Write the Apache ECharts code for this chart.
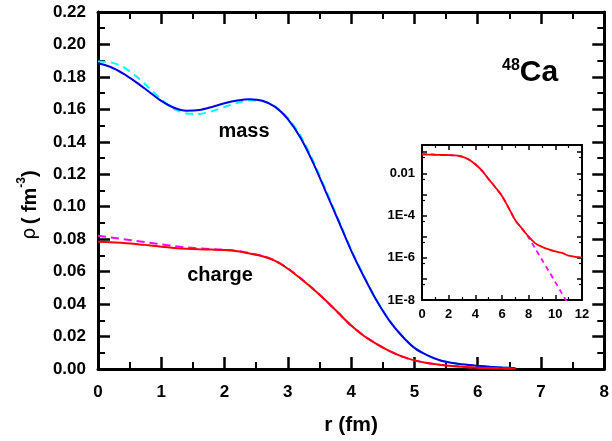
<!DOCTYPE html>
<html>
<head>
<meta charset="utf-8">
<script src="https://cdn.jsdelivr.net/npm/echarts@6/dist/echarts.min.js"></script>
<style>
html,body{margin:0;padding:0;background:#fff;}
#chart{width:612px;height:441px;}
</style>
</head>
<body>
<div id="chart"></div>
<script>
// ---- data ----
const rMain = [0,0.2,0.4,0.6,0.8,1,1.2,1.4,1.6,1.8,2,2.2,2.4,2.6,2.8,3,3.2,3.4,3.6,3.8,4,4.2,4.4,4.6,4.8,5,5.2,5.4,5.6,5.8,6,6.2,6.4,6.6];
const massSolid = [0.1884,0.1861,0.1820,0.1768,0.1710,0.1652,0.1610,0.1592,0.1596,0.1615,0.1638,0.1655,0.1663,0.1653,0.1615,0.1540,0.1425,0.1270,0.1092,0.0912,0.0730,0.0570,0.0423,0.0300,0.0205,0.0130,0.0085,0.0054,0.0037,0.0027,0.0020,0.0014,0.0009,0.0005];
const massDashed = [0.1895,0.1890,0.1860,0.1805,0.1735,0.1662,0.1603,0.1575,0.1572,0.1588,0.1615,0.1640,0.1655,0.1650,0.1617,0.1548,0.1437,0.1282,0.1103,0.0920,0.0737,0.0575,0.0427,0.0303,0.0207,0.0131,0.0085,0.0054,0.0037,0.0027,0.0020,0.0014,0.0009,0.0005];
const chargeSolid = [0.0784,0.0781,0.0777,0.0771,0.0762,0.0753,0.0746,0.0741,0.0738,0.0736,0.0733,0.0726,0.0712,0.0695,0.0666,0.0618,0.0558,0.0493,0.0422,0.0345,0.0268,0.0205,0.0155,0.0112,0.0078,0.0053,0.0037,0.0026,0.0018,0.0012,0.0008,0.0005,0.0003,0.0002];
const chargeDashed = [0.0821,0.0811,0.0800,0.0790,0.0779,0.0768,0.0758,0.0749,0.0743,0.0739,0.0735,0.0728,0.0714,0.0697,0.0668,0.0620,0.0560,0.0494,0.0422,0.0345,0.0268,0.0205,0.0155,0.0112,0.0078,0.0053,0.0037,0.0026,0.0018,0.0012,0.0008,0.0005,0.0003,0.0002];

const rInset = [0,0.5,1,1.5,2,2.5,3,3.5,4,4.5,5,5.5,6,6.5,7,7.5,8,8.5,9,9.5,10,10.5,11,11.5,12];
const chargeLog = [0.078,0.0775,0.0753,0.074,0.0734,0.0705,0.0618,0.0455,0.0268,0.0133,0.0053,0.0022,0.00085,0.00023,0.00006,0.000024,0.00001,0.0000048,0.0000033,0.0000025,0.000002,0.0000017,0.00000125,0.0000011,0.00000105];
const chargeLogDashed = [0.082,0.0795,0.0768,0.0746,0.0735,0.0707,0.0620,0.0457,0.0268,0.0134,0.0053,0.0022,0.00085,0.00023,0.00006,0.000024,0.000009,0.0000027,0.0000008,0.00000024,0.00000007,0.00000002,0.000000006];

const insetYLabels = {'-2':'0.01','-4':'1E-4','-6':'1E-6','-8':'1E-8'};

function pairs(xs, ys){ return ys.map((v,i)=>[xs[i], v]); }

const FONT = 'Liberation Sans, Arial, sans-serif';
const black = '#000';

function mainAxisCommon(extra){
  return Object.assign({
    gridIndex: 0,
    axisLine: {show:true, onZero:false, lineStyle:{color:black, width:3, type:'solid'}},
    axisTick: {show:true, inside:true, length:12, lineStyle:{color:black, width:2.5, type:'solid'}},
    minorTick: {show:true, splitNumber:2, length:7, lineStyle:{color:black, width:2, type:'solid'}},
    splitLine: {show:false},
    minorSplitLine: {show:false}
  }, extra);
}
function insetAxisCommon(extra){
  return Object.assign({
    gridIndex: 1,
    axisLine: {show:true, onZero:false, lineStyle:{color:black, width:2, type:'solid'}},
    axisTick: {show:true, inside:true, length:5, lineStyle:{color:black, width:1.5, type:'solid'}},
    minorTick: {show:true, splitNumber:2, length:3, lineStyle:{color:black, width:1.2, type:'solid'}},
    splitLine: {show:false},
    minorSplitLine: {show:false}
  }, extra);
}

const chart = echarts.init(document.getElementById('chart'));
const option = {
  animation: false,
  grid: [
    {left:98, right:6, top:12, bottom:72},
    {left:422, right:30, top:145, bottom:141}
  ],
  xAxis: [
    mainAxisCommon({type:'value', min:0, max:8, interval:1, position:'bottom',
      name:'r (fm)', nameLocation:'middle', nameGap:46,
      nameTextStyle:{fontFamily:FONT, fontWeight:'bold', fontSize:21, color:black},
      axisLabel:{show:true, margin:15, fontFamily:FONT, fontWeight:'bold', fontSize:17, color:black}}),
    mainAxisCommon({type:'value', min:0, max:8, interval:1, position:'top', axisLabel:{show:false}}),
    insetAxisCommon({type:'value', min:0, max:12, interval:2, position:'bottom',
      axisLabel:{show:true, margin:8, fontFamily:FONT, fontWeight:'bold', fontSize:13, color:black}}),
    insetAxisCommon({type:'value', min:0, max:12, interval:2, position:'top', axisLabel:{show:false}})
  ],
  yAxis: [
    mainAxisCommon({type:'value', min:0, max:0.22, interval:0.02, position:'left',
      axisLabel:{show:true, margin:12, fontFamily:FONT, fontWeight:'bold', fontSize:17, color:black,
        formatter:v=>v.toFixed(2)}}),
    mainAxisCommon({type:'value', min:0, max:0.22, interval:0.02, position:'right', axisLabel:{show:false}}),
    insetAxisCommon({type:'log', logBase:10, min:1e-8, max:0.22, position:'left',
      axisLabel:{show:true, margin:7, fontFamily:FONT, fontWeight:'bold', fontSize:13, color:black,
        showMaxLabel:false,
        formatter:v=>{const e=Math.round(Math.log10(v)); return insetYLabels[String(e)]||'';}}}),
    insetAxisCommon({type:'log', logBase:10, min:1e-8, max:0.22, position:'right', axisLabel:{show:false}})
  ],
  series: [
    {type:'line', xAxisIndex:0, yAxisIndex:0, data:pairs(rMain, massDashed), smooth:0.3, symbol:'none',
      lineStyle:{color:'#00ffff', width:2, type:[8,5]}},
    {type:'line', xAxisIndex:0, yAxisIndex:0, data:pairs(rMain, massSolid), smooth:0.3, symbol:'none',
      lineStyle:{color:'#0000e6', width:2}},
    {type:'line', xAxisIndex:0, yAxisIndex:0, data:pairs(rMain, chargeDashed), smooth:0.3, symbol:'none',
      lineStyle:{color:'#ff00ff', width:2, type:[8,5]}},
    {type:'line', xAxisIndex:0, yAxisIndex:0, data:pairs(rMain, chargeSolid), smooth:0.3, symbol:'none',
      lineStyle:{color:'#ff0000', width:2}},
    {type:'line', xAxisIndex:2, yAxisIndex:2, data:pairs(rInset, chargeLogDashed), smooth:0.3, symbol:'none',
      lineStyle:{color:'#ff00ff', width:1.8, type:[5,4]}},
    {type:'line', xAxisIndex:2, yAxisIndex:2, data:pairs(rInset, chargeLog), smooth:0.3, symbol:'none',
      lineStyle:{color:'#ff0000', width:1.8}}
  ],
  graphic: [
    {type:'text', x:28, y:205, rotation:Math.PI/2,
      style:{text:'{g|ρ} {b|( fm}{s|-3}{b|)}', align:'center', verticalAlign:'middle',
        rich:{
          g:{fontFamily:'DejaVu Sans, sans-serif', fontSize:19, fill:black, lineHeight:24, verticalAlign:'bottom'},
          b:{fontFamily:FONT, fontWeight:'bold', fontSize:20, fill:black, lineHeight:24, verticalAlign:'bottom'},
          s:{fontFamily:FONT, fontWeight:'bold', fontSize:12, fill:black, lineHeight:24, verticalAlign:'top'}
        }}},
    {type:'text', x:502, y:73,
      style:{text:'{s|48}{b|Ca}', align:'left', verticalAlign:'middle',
        rich:{
          s:{fontFamily:FONT, fontWeight:'bold', fontSize:16, fill:black, lineHeight:30, verticalAlign:'top'},
          b:{fontFamily:FONT, fontWeight:'bold', fontSize:30, fill:black, lineHeight:30, verticalAlign:'bottom'}
        }}},
    {type:'text', x:244, y:131,
      style:{text:'mass', align:'center', verticalAlign:'middle', fontFamily:FONT, fontWeight:'bold', fontSize:20, fill:black}},
    {type:'text', x:220, y:275,
      style:{text:'charge', align:'center', verticalAlign:'middle', fontFamily:FONT, fontWeight:'bold', fontSize:20, fill:black}}
  ]
};
chart.setOption(option);
</script>
</body>
</html>
